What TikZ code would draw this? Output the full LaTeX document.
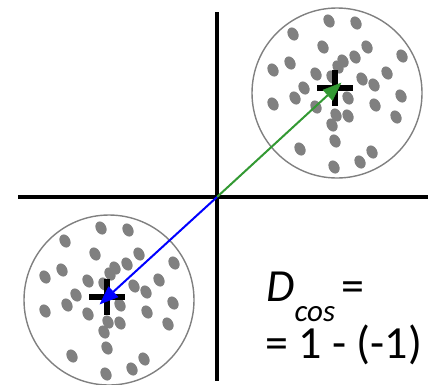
\documentclass[tikz,border=0pt]{standalone}
\usepackage{fontspec}
\setmainfont{Carlito}
\usetikzlibrary{calc}
\definecolor{dotgray}{RGB}{128,128,128}
\definecolor{vecgreen}{RGB}{51,153,51}
\definecolor{vecblue}{RGB}{0,0,255}
\tikzset{
  axis/.style={line width=3.2pt, black},
  cluster/.style={line width=1.4pt, draw=dotgray},
  pt/.style={fill=dotgray},
  crossbar/.style={line width=6pt, black},
  vec/.style={line width=2pt},
  vechead/.style={line width=0.4pt, line join=miter},
  lbl/.style={inner sep=0pt, anchor=base west, font=\fontsize{46}{50}\selectfont}
}
\newcommand{\dotpattern}{-8/-72,19/-70,-44/-59,-14/-46,30/-46,65/-37,-47/-30,6/-32,18/-36,-64/-23,1/-26,-21/-19,50/-20,-5/-16,25/-14,37/-8,-33/-5,-42/5,11/5,64/3,-64/11,-21/14,38/12,-1/22,11/23,59/24,-5/32,-2/48,-37/56,35/59,23/69,-3/74}
\begin{document}
\begin{tikzpicture}[x=1pt,y=-1pt]
\useasboundingbox (0,0) rectangle (435,384);
% named points
\coordinate (O) at (217,197);
\coordinate (vtop) at (217,12);
\coordinate (vbot) at (217,381);
\coordinate (hleft) at (18,197);
\coordinate (hright) at (428,197);
\coordinate (cA) at (337,93);
\coordinate (cB) at (109,300);
\coordinate (mA) at (335,88);
\coordinate (mB) at (107,297);
\coordinate (tipA) at (341,83);
\coordinate (tipB) at (100,304);
% axes
\draw[axis] (vtop) -- (vbot);
\draw[axis] (hleft) -- (hright);
% clusters
\draw[cluster] (cA) circle[radius=85];
\draw[cluster] (cB) circle[radius=85];
\foreach \c in {cA,cB}{
  \foreach \dx/\dy in \dotpattern {
    \fill[pt] ($(\c)+(\dx,\dy)$) ellipse[x radius=5.2, y radius=6.9, rotate=28];
  }
}
% centroids
\foreach \m in {mA,mB}{
  \draw[crossbar] ([xshift=-18pt]\m) -- ([xshift=18pt]\m);
  \draw[crossbar] ([yshift=18pt]\m) -- ([yshift=-18pt]\m);
}
% vectors with heads
\foreach \t/\col in {tipA/vecgreen,tipB/vecblue}{
  \coordinate (hb) at ($(\t)!18pt!(O)$);
  \draw[vec, \col] (O) -- (hb);
  \filldraw[vechead, \col] (\t) -- ($(hb)!7pt!90:(\t)$) -- ($(hb)!7pt!-90:(\t)$) -- cycle;
}
% label
\node[lbl] (l1) at (266,301) {\itshape D\smash{\raisebox{-20pt}{\fontsize{31}{31}\selectfont cos}}\upshape\hspace{6pt}=};
\node[lbl] (l2) at (265,358) {= 1 - (-1)};
\end{tikzpicture}
\end{document}
